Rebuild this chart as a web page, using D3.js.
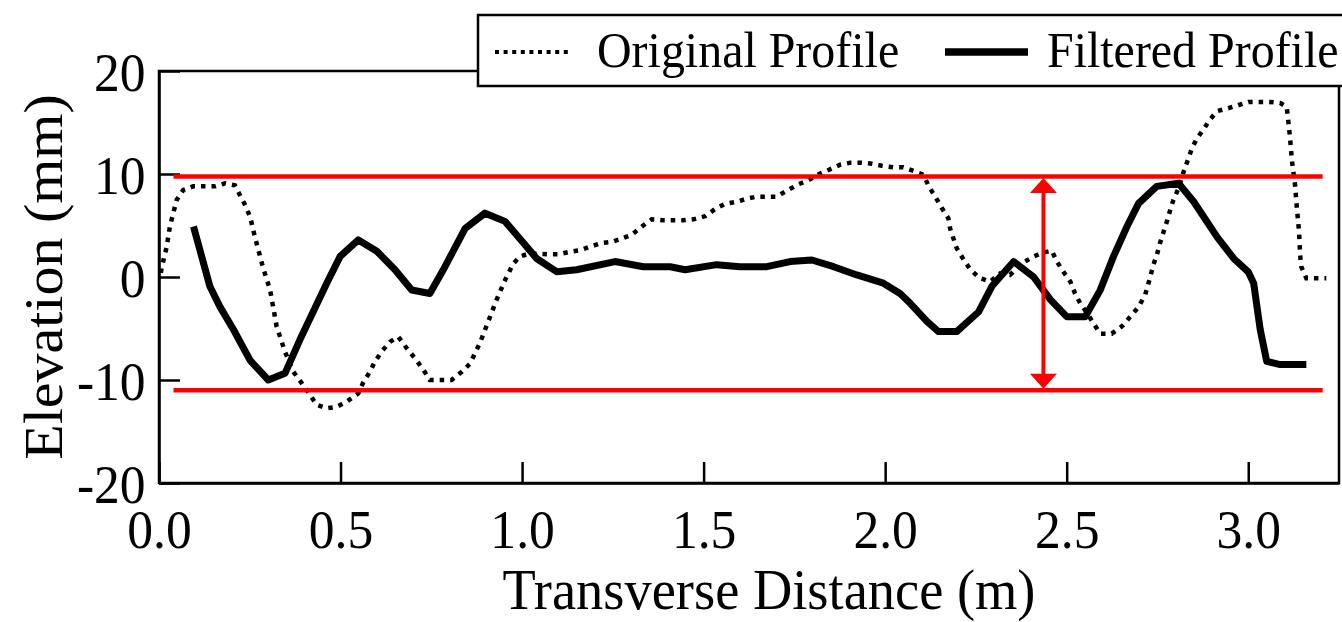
<!DOCTYPE html>
<html>
<head>
<meta charset="utf-8">
<script src="https://cdn.jsdelivr.net/npm/d3@7/dist/d3.min.js"></script>
<style>
  html, body { margin: 0; padding: 0; background: #fff; }
  svg { display: block; }
  text { font-family: "Liberation Serif", "Times New Roman", serif; fill: #000; }
</style>
</head>
<body>
<svg id="chart" width="1342" height="622"></svg>
<script>
// ---------- DATA ----------
const xTicks = [0.0, 0.5, 1.0, 1.5, 2.0, 2.5, 3.0];
const yTicks = [-20, -10, 0, 10, 20];
const xDomain = [0, 3.25];
const yDomain = [-20, 20];

const seriesNames = ["Original Profile", "Filtered Profile"];

// Original (dotted) profile: [distance m, elevation mm]
const originalProfile = [
  [0.005, 0.4], [0.007, 0.85], [0.021, 2.9], [0.03, 4.9], [0.04, 6.3], [0.049, 7.5],
  [0.067, 8.45], [0.094, 8.8], [0.154, 8.8], [0.182, 9.1], [0.209, 8.9], [0.237, 7.0],
  [0.251, 5.85], [0.264, 3.9], [0.287, 0.85], [0.306, -1.26], [0.324, -4.8], [0.347, -7.25],
  [0.37, -9.2], [0.393, -10.3], [0.416, -11.45], [0.434, -12.4], [0.462, -12.75], [0.49, -12.6],
  [0.517, -12.1], [0.549, -11.3], [0.563, -10.2], [0.581, -9.2], [0.595, -8.2], [0.613, -7.25],
  [0.636, -6.3], [0.659, -5.8], [0.682, -6.9], [0.705, -7.9], [0.728, -9.0], [0.746, -10.0],
  [0.779, -10.0], [0.806, -10.0], [0.834, -9.2], [0.857, -8.4], [0.884, -6.4], [0.907, -4.3],
  [0.93, -2.2], [0.953, -0.3], [0.976, 1.3], [0.994, 2.0], [1.022, 2.3], [1.073, 2.2],
  [1.1, 2.2], [1.132, 2.45], [1.16, 2.6], [1.187, 2.95], [1.22, 3.3], [1.247, 3.4],
  [1.275, 3.75], [1.302, 4.1], [1.33, 4.9], [1.357, 5.6], [1.389, 5.5], [1.444, 5.5],
  [1.472, 5.6], [1.504, 5.9], [1.532, 6.6], [1.559, 7.1], [1.591, 7.3], [1.619, 7.6],
  [1.646, 7.8], [1.701, 7.8], [1.733, 8.45], [1.761, 9.0], [1.789, 9.4], [1.821, 10.05],
  [1.848, 10.45], [1.876, 10.9], [1.904, 11.1], [1.931, 11.1], [1.963, 11.0], [1.991, 10.8],
  [2.023, 10.65], [2.05, 10.65], [2.078, 10.3], [2.106, 9.9], [2.12, 8.8], [2.138, 7.8],
  [2.156, 6.7], [2.174, 5.7], [2.179, 4.7], [2.197, 2.8], [2.216, 1.7], [2.234, 0.75],
  [2.26, -0.1], [2.289, -0.45], [2.317, 0.35], [2.344, 0.2], [2.376, 1.3], [2.404, 1.9],
  [2.432, 2.35], [2.459, 2.55], [2.473, 1.5], [2.491, 0.5], [2.51, -0.45], [2.523, -1.6],
  [2.537, -2.55], [2.556, -3.5], [2.574, -4.5], [2.592, -5.5], [2.624, -5.5], [2.652, -4.8],
  [2.675, -3.85], [2.698, -2.9], [2.716, -1.75], [2.73, 0.0], [2.739, 1.2], [2.748, 2.1],
  [2.757, 3.3], [2.767, 4.4], [2.776, 5.4], [2.785, 6.5], [2.794, 7.5], [2.808, 8.6],
  [2.822, 10.2], [2.835, 11.5], [2.845, 12.5], [2.858, 13.4], [2.877, 14.35], [2.895, 15.3],
  [2.914, 16.1], [2.946, 16.4], [2.974, 16.7], [3.001, 17.0], [3.056, 17.0], [3.088, 16.9],
  [3.106, 16.5], [3.111, 14.9], [3.115, 13.6], [3.12, 11.4], [3.129, 8.9], [3.134, 6.7],
  [3.14, 4.4], [3.143, 2.1], [3.146, 1.0], [3.16, -0.13], [3.215, -0.13]
];

// Filtered (solid) profile: [distance m, elevation mm]
const filteredProfile = [
  [0.095, 4.9], [0.14, -0.9], [0.168, -2.9], [0.205, -5.1], [0.251, -8.1], [0.301, -10.0],
  [0.347, -9.35], [0.388, -6.1], [0.462, -0.6], [0.499, 2.0], [0.549, 3.6], [0.60, 2.5],
  [0.65, 0.7], [0.696, -1.26], [0.746, -1.6], [0.783, 0.7], [0.843, 4.7], [0.898, 6.2],
  [0.953, 5.4], [1.004, 3.3], [1.04, 1.8], [1.096, 0.5], [1.15, 0.7], [1.256, 1.5],
  [1.334, 1.0], [1.408, 1.0], [1.449, 0.7], [1.536, 1.2], [1.60, 1.0], [1.674, 1.0],
  [1.738, 1.5], [1.798, 1.65], [1.858, 1.0], [1.922, 0.2], [1.995, -0.6], [2.041, -1.6],
  [2.069, -2.55], [2.115, -4.3], [2.147, -5.3], [2.197, -5.3], [2.257, -3.4], [2.294, -0.9],
  [2.354, 1.5], [2.409, 0.0], [2.455, -2.2], [2.50, -3.85], [2.551, -3.85], [2.592, -1.3],
  [2.629, 2.0], [2.666, 4.9], [2.698, 7.15], [2.748, 8.8], [2.808, 9.1], [2.85, 7.3],
  [2.914, 3.9], [2.96, 1.8], [3.0, 0.5], [3.015, -0.6], [3.033, -5.1], [3.051, -8.2],
  [3.088, -8.5], [3.16, -8.5]
];

// Red reference band
const bandLevels = [9.75, -11.0];     // elevation of the two red lines (mm)
const bandExtent = [0.04, 3.205];     // distance span of the red lines (m)
const arrowAt = 2.436;                // distance of the double arrow (m)

// ---------- LAYOUT ----------
const svg = d3.select("#chart");
const plot = { left: 159, right: 1339, top: 71, bottom: 483 };
const sx = 0.955; // glyph horizontal compression in the reference

const x = d3.scaleLinear().domain(xDomain).range([plot.left, plot.right]);
const y = d3.scaleLinear().domain(yDomain).range([plot.bottom, plot.top]);

// frame
svg.append("rect")
  .attr("x", plot.left).attr("y", plot.top)
  .attr("width", plot.right - plot.left).attr("height", plot.bottom - plot.top)
  .attr("fill", "none").attr("stroke", "#000").attr("stroke-width", 2.5);

// x axis
const gx = svg.append("g")
  .attr("transform", `translate(0,${plot.bottom})`)
  .call(d3.axisBottom(x).tickValues(xTicks).tickSizeInner(-21).tickSizeOuter(0)
        .tickFormat(d3.format(".1f")));
gx.select(".domain").attr("stroke", "#000").attr("stroke-width", 2.5);
gx.selectAll(".tick line").attr("stroke", "#000").attr("stroke-width", 2.5);
gx.selectAll(".tick text")
  .attr("y", 65).attr("dy", null)
  .attr("transform", `scale(${sx},1)`)
  .style("font-family", '"Liberation Serif", serif')
  .style("font-size", "54px").attr("fill", "#000");

// y axis
const gy = svg.append("g")
  .attr("transform", `translate(${plot.left},0)`)
  .call(d3.axisLeft(y).tickValues(yTicks).tickSizeInner(-21).tickSizeOuter(0)
        .tickPadding(14).tickFormat(d => String(d)));
gy.select(".domain").attr("stroke", "#000").attr("stroke-width", 2.5);
gy.selectAll(".tick line").attr("stroke", "#000").attr("stroke-width", 2.5);
gy.selectAll(".tick text")
  .attr("dy", null).attr("y", 19)
  .attr("transform", `scale(${sx},1)`)
  .style("font-family", '"Liberation Serif", serif')
  .style("font-size", "54px").attr("fill", "#000");

// axis titles
svg.append("text")
  .attr("transform", `translate(769,609) scale(${sx},1)`)
  .attr("text-anchor", "middle")
  .style("font-size", "57px")
  .text("Transverse Distance (m)");

svg.append("text")
  .attr("transform", `translate(62,${(plot.top + plot.bottom) / 2}) scale(${sx},1) rotate(-90)`)
  .attr("text-anchor", "middle")
  .style("font-size", "58px")
  .text("Elevation (mm)");

// lines
const line = d3.line().x(d => x(d[0])).y(d => y(d[1]));

svg.append("path")
  .datum(originalProfile)
  .attr("d", line)
  .attr("fill", "none").attr("stroke", "#000")
  .attr("stroke-width", 4.5).attr("stroke-dasharray", "4.5 6");

svg.append("path")
  .datum(filteredProfile)
  .attr("d", line)
  .attr("fill", "none").attr("stroke", "#000")
  .attr("stroke-width", 7).attr("stroke-linejoin", "round");

// red band lines
svg.selectAll("line.band")
  .data(bandLevels).enter().append("line")
  .attr("class", "band")
  .attr("x1", x(bandExtent[0])).attr("x2", x(bandExtent[1]))
  .attr("y1", d => y(d)).attr("y2", d => y(d))
  .attr("stroke", "#ff0000").attr("stroke-width", 4.5);

// double arrow
const ax = x(arrowAt);
const yTop = y(bandLevels[0]) + 1.5, yBot = y(bandLevels[1]) - 1.5;
const headW = 13.5, headH = 15;
svg.append("line")
  .attr("x1", ax).attr("x2", ax)
  .attr("y1", yTop + headH - 1).attr("y2", yBot - headH + 1)
  .attr("stroke", "#ff0000").attr("stroke-width", 4);
svg.append("path")
  .attr("d", `M${ax},${yTop} L${ax + headW},${yTop + headH} L${ax - headW},${yTop + headH} Z`)
  .attr("fill", "#ff0000");
svg.append("path")
  .attr("d", `M${ax},${yBot} L${ax + headW},${yBot - headH} L${ax - headW},${yBot - headH} Z`)
  .attr("fill", "#ff0000");

// legend
const lg = svg.append("g");
lg.append("rect")
  .attr("x", 478).attr("y", 15).attr("width", 900).attr("height", 71)
  .attr("fill", "#fff").attr("stroke", "#000").attr("stroke-width", 2.5);
lg.append("line")
  .attr("x1", 495).attr("x2", 572).attr("y1", 52).attr("y2", 52)
  .attr("stroke", "#000").attr("stroke-width", 4).attr("stroke-dasharray", "4 4.6");
lg.append("text")
  .attr("transform", `translate(597,67) scale(0.94,1)`)
  .style("font-size", "51px")
  .text(seriesNames[0]);
lg.append("line")
  .attr("x1", 945).attr("x2", 1028).attr("y1", 52).attr("y2", 52)
  .attr("stroke", "#000").attr("stroke-width", 7.5);
lg.append("text")
  .attr("transform", `translate(1047,67) scale(0.94,1)`)
  .style("font-size", "51px")
  .text(seriesNames[1]);
</script>
</body>
</html>
